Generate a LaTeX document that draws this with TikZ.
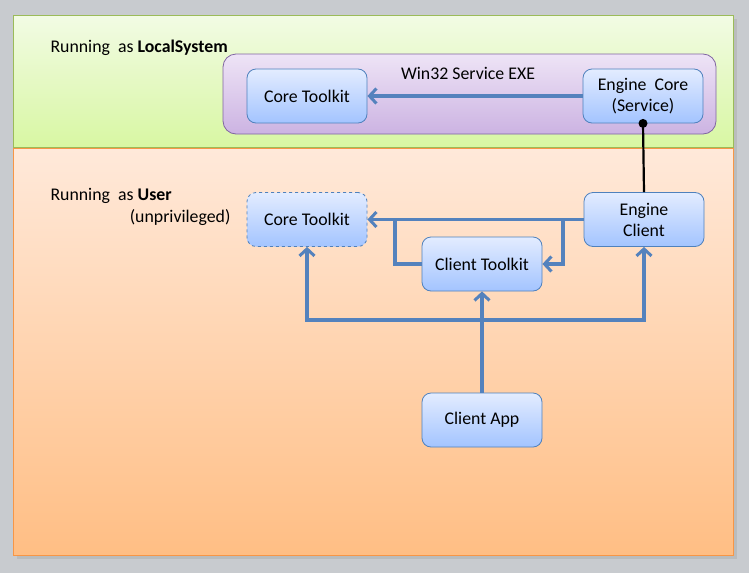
\documentclass[tikz,border=0pt]{standalone}
\usepackage{fontspec}
\setmainfont{Carlito}
\usetikzlibrary{arrows.meta}
\definecolor{slidegray}{RGB}{200,203,207}
\definecolor{greentop}{RGB}{242,251,228}
\definecolor{greenbot}{RGB}{216,247,163}
\definecolor{greenline}{RGB}{155,187,89}
\definecolor{orangetop}{RGB}{255,233,218}
\definecolor{orangebot}{RGB}{255,190,132}
\definecolor{orangeline}{RGB}{247,150,70}
\definecolor{exetop}{RGB}{238,228,246}
\definecolor{exebot}{RGB}{204,179,226}
\definecolor{exeline}{RGB}{128,100,162}
\definecolor{boxtop}{RGB}{227,236,255}
\definecolor{boxbot}{RGB}{163,196,255}
\definecolor{boxline}{RGB}{79,129,189}
\definecolor{linkblue}{RGB}{84,130,189}

\begin{document}
\begin{tikzpicture}[x=1pt,y=-1pt,
        box/.style={draw=boxline,line width=0.8pt,rounded corners=9pt,top color=boxtop,bottom color=boxbot,
            minimum width=120pt,minimum height=54pt,align=center,font=\fontsize{17.8}{21}\selectfont},
        link/.style={draw=linkblue,line width=3.8pt,-{Straight Barb[length=7pt,width=15pt,line width=3pt]}},
        plain/.style={draw=linkblue,line width=3.8pt},
        lbl/.style={font=\fontsize{17.8}{21}\selectfont}]
    \useasboundingbox (0,0) rectangle (749,573);
    \fill[slidegray] (0,0) rectangle (749,573);
    % slide and its two bands
    \fill[black!30,opacity=0.6] (17,19) rectangle (737,559);
    \shade[top color=greentop,bottom color=greenbot,draw=greenline] (13,15) rectangle (733,147);
    \shade[top color=orangetop,bottom color=orangebot,draw=orangeline] (13,148) rectangle (733,555);
    \node[lbl,anchor=west] (lsys) at (47,48) {Running\ \ as \textbf{LocalSystem}};
    \node[lbl,anchor=west] (usr) at (47,196) {Running\ \ as \textbf{User}};
    \node[lbl,anchor=east] (unpriv) at (234,218) {(unprivileged)};

    % service process
    \node[draw=exeline,line width=0.8pt,rounded corners=13pt,top color=exetop,bottom color=exebot,
        minimum width=493pt,minimum height=80pt] (exe) at (469.5,94) {};
    \node[lbl] (exetxt) at (468,73) {Win32 Service EXE};
    \node[box] (core) at (307,96) {Core Toolkit};
    \node[box] (engc) at (643,96) {Engine\ \ Core\\(Service)};
    \draw[link] (engc.west) -- (core.west -| core.east);

    % user process
    \node[box,dashed] (core2) at (307,219.5) {Core Toolkit};
    \node[box] (eng) at (644,219.5) {Engine\\Client};
    \node[box] (ctk) at (482,264) {Client Toolkit};
    \node[box] (app) at (482,420) {Client App};
    \draw[black,line width=2.2pt] (engc.south) -- (eng.north);
    \fill[black] (engc.south) circle (4.5pt);

    \coordinate (jl) at (395,220);
    \coordinate (jr) at (563,220);
    \coordinate (bus) at (482,320);
    \draw[link] (eng.west) -- (core2.east);
    \draw[plain] (ctk.west) -| (jl);
    \draw[link] (jr) |- (ctk.east);
    \draw[link] (app.north) -- (ctk.south);
    \draw[link] (bus) -| (core2.south);
    \draw[link] (bus) -| (eng.south);
\end{tikzpicture}
\end{document}
